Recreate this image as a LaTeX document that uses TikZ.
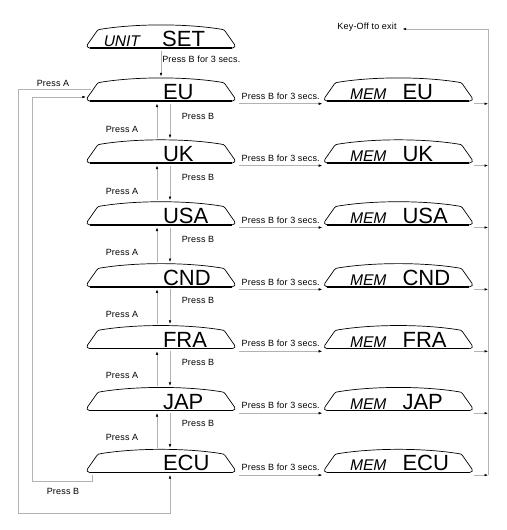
\documentclass[tikz,border=0pt]{standalone}
\usepackage{fontspec}
\setmainfont{Liberation Sans}
\newfontfamily\lcdslant{Liberation Sans}[FakeSlant=0.2]
\newfontfamily\lblfont{Liberation Sans}[LetterSpace=2]
\usetikzlibrary{positioning,arrows.meta}
\newcommand\lcdsm{\lcdslant\fontsize{15.5}{15.5}\selectfont}

\begin{document}
\begin{tikzpicture}[x=1pt,y=1pt,
    lcd/.style={minimum width=150pt,minimum height=27pt,inner sep=0pt,
      text width=146pt,align=left,
      text height=19pt,text depth=0pt,
      font=\fontsize{22}{22}\selectfont},
    lcdframe/.pic={
      \draw[line width=0.7pt,line join=round]
        (0,-11) -- (-71.5,-11) .. controls (-74,-11) and (-74.5,-9) .. (-73.5,-7.5)
        -- (-64,6) .. controls (-63,7.3) and (-62,7.6) .. (-60,7.8)
        .. controls (-25,13.5) and (25,13.5) .. (60,7.8)
        .. controls (62,7.6) and (63,7.3) .. (64,6)
        -- (73.5,-7.5) .. controls (74.5,-9) and (74,-11) .. (71.5,-11) -- cycle;
      \draw[line width=1.6pt] (-71,-11) -- (71,-11);
    },
    lbl/.style={font=\lblfont\fontsize{9}{10}\selectfont,inner sep=1pt},
    link/.style={draw=gray!60,line width=0.5pt,
      -{Latex[length=3.5pt,width=2.6pt,color=black]}}]

  \useasboundingbox (0,0) rectangle (506,-530);

  % displays, left column
  \node[lcd] (unitset) at (161,-37) {\hspace*{15pt}{\lcdsm UNIT}\hspace{23pt}SET};
  \node[lcd] (eu) at (161,-90) {\hspace*{75pt}EU};
  \node[lcd,below=34.5pt of eu] (uk) {\hspace*{75pt}UK};
  \node[lcd,below=34.5pt of uk] (usa) {\hspace*{75pt}USA};
  \node[lcd,below=34.5pt of usa] (cnd) {\hspace*{75pt}CND};
  \node[lcd,below=34.5pt of cnd] (fra) {\hspace*{75pt}FRA};
  \node[lcd,below=34.5pt of fra] (jap) {\hspace*{75pt}JAP};
  \node[lcd,below=34.5pt of jap] (ecu) {\hspace*{75pt}ECU};

  % displays, right column
  \node[lcd,right=87pt of eu] (memeu) {\hspace*{24pt}{\lcdsm MEM}\hspace{17pt}EU};
  \node[lcd,right=87pt of uk] (memuk) {\hspace*{24pt}{\lcdsm MEM}\hspace{17pt}UK};
  \node[lcd,right=87pt of usa] (memusa) {\hspace*{24pt}{\lcdsm MEM}\hspace{17pt}USA};
  \node[lcd,right=87pt of cnd] (memcnd) {\hspace*{24pt}{\lcdsm MEM}\hspace{17pt}CND};
  \node[lcd,right=87pt of fra] (memfra) {\hspace*{24pt}{\lcdsm MEM}\hspace{17pt}FRA};
  \node[lcd,right=87pt of jap] (memjap) {\hspace*{24pt}{\lcdsm MEM}\hspace{17pt}JAP};
  \node[lcd,right=87pt of ecu] (memecu) {\hspace*{24pt}{\lcdsm MEM}\hspace{17pt}ECU};

  % display frames
  \pic at (unitset.center) {lcdframe};
  \pic at (eu.center) {lcdframe};
  \pic at (uk.center) {lcdframe};
  \pic at (usa.center) {lcdframe};
  \pic at (cnd.center) {lcdframe};
  \pic at (fra.center) {lcdframe};
  \pic at (jap.center) {lcdframe};
  \pic at (ecu.center) {lcdframe};
  \pic at (memeu.center) {lcdframe};
  \pic at (memuk.center) {lcdframe};
  \pic at (memusa.center) {lcdframe};
  \pic at (memcnd.center) {lcdframe};
  \pic at (memfra.center) {lcdframe};
  \pic at (memjap.center) {lcdframe};
  \pic at (memecu.center) {lcdframe};

  \node[lbl] (keyoff) at (367,-27) {Key-Off to exit};
  \coordinate (busTop) at (488,-29);
  \coordinate (loopA) at (18,-513);
  \coordinate (loopB) at (32,-481);

  % entry
  \draw[link] (unitset.south) -- node[lbl,pos=0.35,right] {Press B for 3 secs.} (eu.north);

  % store
  \draw[link] ([xshift=3pt]eu.south east) -- node[lbl,above=3pt] {Press B for 3 secs.} ([xshift=-1pt]memeu.south west);
  \draw[link] ([xshift=3pt]uk.south east) -- node[lbl,above=3pt] {Press B for 3 secs.} ([xshift=-1pt]memuk.south west);
  \draw[link] ([xshift=3pt]usa.south east) -- node[lbl,above=3pt] {Press B for 3 secs.} ([xshift=-1pt]memusa.south west);
  \draw[link] ([xshift=3pt]cnd.south east) -- node[lbl,above=3pt] {Press B for 3 secs.} ([xshift=-1pt]memcnd.south west);
  \draw[link] ([xshift=3pt]fra.south east) -- node[lbl,above=3pt] {Press B for 3 secs.} ([xshift=-1pt]memfra.south west);
  \draw[link] ([xshift=3pt]jap.south east) -- node[lbl,above=3pt] {Press B for 3 secs.} ([xshift=-1pt]memjap.south west);
  \draw[link] ([xshift=3pt]ecu.south east) -- node[lbl,above=3pt] {Press B for 3 secs.} ([xshift=-1pt]memecu.south west);

  % exit bus
  \draw[link] (memeu.south east) -- (memeu.south east -| busTop);
  \draw[link] (memuk.south east) -- (memuk.south east -| busTop);
  \draw[link] (memusa.south east) -- (memusa.south east -| busTop);
  \draw[link] (memcnd.south east) -- (memcnd.south east -| busTop);
  \draw[link] (memfra.south east) -- (memfra.south east -| busTop);
  \draw[link] (memjap.south east) -- (memjap.south east -| busTop);
  \draw[link] (memecu.south east) -- (memecu.south east -| busTop);
  \draw[link,shorten >=5pt] (memecu.south east -| busTop) -- (busTop) -- (busTop -| keyoff.east);

  % stepping up and down
  \draw[link] ([xshift=-4pt]uk.north) -- ([xshift=-4pt]eu.south);
  \draw[link] ([xshift=9pt]eu.south) -- ([xshift=9pt]uk.north);
  \node[lbl] (pa1) at (122,-129.5) {Press A};
  \node[lbl] (pb1) at (198,-116) {Press B};

  \draw[link] ([xshift=-4pt]usa.north) -- ([xshift=-4pt]uk.south);
  \draw[link] ([xshift=9pt]uk.south) -- ([xshift=9pt]usa.north);
  \node[lbl] (pa2) at (122,-191) {Press A};
  \node[lbl] (pb2) at (198,-177.5) {Press B};

  \draw[link] ([xshift=-4pt]cnd.north) -- ([xshift=-4pt]usa.south);
  \draw[link] ([xshift=9pt]usa.south) -- ([xshift=9pt]cnd.north);
  \node[lbl] (pa3) at (122,-252.5) {Press A};
  \node[lbl] (pb3) at (198,-239) {Press B};

  \draw[link] ([xshift=-4pt]fra.north) -- ([xshift=-4pt]cnd.south);
  \draw[link] ([xshift=9pt]cnd.south) -- ([xshift=9pt]fra.north);
  \node[lbl] (pa4) at (122,-314) {Press A};
  \node[lbl] (pb4) at (198,-300.5) {Press B};

  \draw[link] ([xshift=-4pt]jap.north) -- ([xshift=-4pt]fra.south);
  \draw[link] ([xshift=9pt]fra.south) -- ([xshift=9pt]jap.north);
  \node[lbl] (pa5) at (122,-375.5) {Press A};
  \node[lbl] (pb5) at (198,-362) {Press B};

  \draw[link] ([xshift=-4pt]ecu.north) -- ([xshift=-4pt]jap.south);
  \draw[link] ([xshift=9pt]jap.south) -- ([xshift=9pt]ecu.north);
  \node[lbl] (pa6) at (122,-437) {Press A};
  \node[lbl] (pb6) at (198,-423.5) {Press B};

  % wrap-around
  \draw[link] ([xshift=5pt,yshift=1pt]eu.west) -| (loopA) -| ([xshift=9pt]ecu.south);
  \node[lbl] (paout) at (53,-83) {Press A};
  \draw[link] ([xshift=6pt]ecu.south west) |- (loopB) |- ([yshift=-7pt]eu.west);
  \node[lbl] (pbout) at (63,-491) {Press B};
\end{tikzpicture}
\end{document}
